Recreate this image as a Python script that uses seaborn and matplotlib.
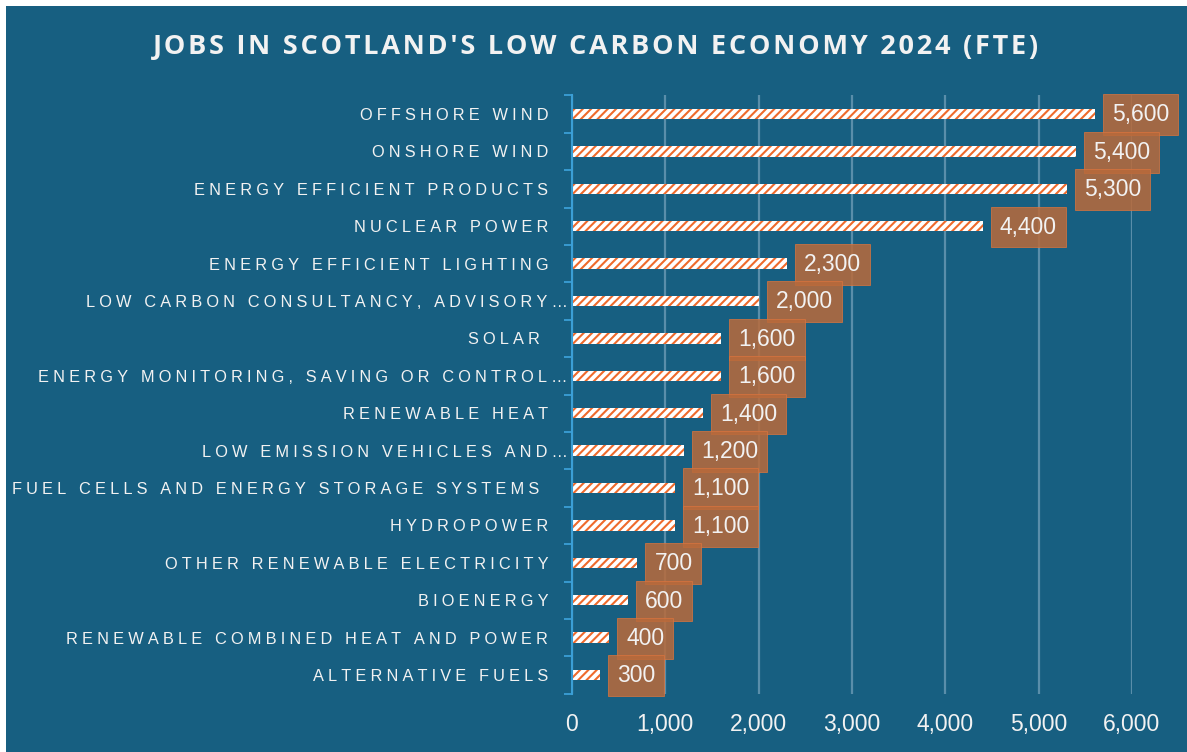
import matplotlib
matplotlib.use("Agg")
import matplotlib.pyplot as plt
from matplotlib.patches import Rectangle
from matplotlib.ticker import FixedLocator, FuncFormatter
import seaborn as sns
import pandas as pd

# Jobs in Scotland's low carbon economy, 2024 (full-time equivalent)
categories = [
    "OFFSHORE WIND",
    "ONSHORE WIND",
    "ENERGY EFFICIENT PRODUCTS",
    "NUCLEAR POWER",
    "ENERGY EFFICIENT LIGHTING",
    "LOW CARBON CONSULTANCY, ADVISORY\u2026",
    "SOLAR ",
    "ENERGY MONITORING, SAVING OR CONTROL\u2026",
    "RENEWABLE HEAT",
    "LOW EMISSION VEHICLES AND\u2026",
    "FUEL CELLS AND ENERGY STORAGE SYSTEMS ",
    "HYDROPOWER",
    "OTHER RENEWABLE ELECTRICITY",
    "BIOENERGY",
    "RENEWABLE COMBINED HEAT AND POWER",
    "ALTERNATIVE FUELS",
]
jobs = [5600, 5400, 5300, 4400, 2300, 2000, 1600, 1600,
        1400, 1200, 1100, 1100, 700, 600, 400, 300]
x_ticks = [0, 1000, 2000, 3000, 4000, 5000, 6000]
title = "JOBS IN SCOTLAND'S LOW CARBON ECONOMY 2024 (FTE)"

BG = "#175f81"
SPINE = "#3b9fd6"
GRID = "#5a8eaa"
HATCH = "#ee6a2c"
BOX = "#b96a3b"
TEXT = "#f2f2f2"
SANS = ["Liberation Sans", "DejaVu Sans"]


def tracked(s, gap="\u2005"):
    """Spread the letters of a label apart (letter-spacing)."""
    return gap.join(s)


def category_label(s):
    # truncated names hang their ellipsis past the common right edge
    if s.endswith("\u2026"):
        return tracked(s)
    return tracked(s) + "\u2003\u2009"


df = pd.DataFrame({"category": categories, "jobs": jobs})

W, H, DPI = 1187, 752, 100
fig = plt.figure(figsize=(W / DPI, H / DPI), dpi=DPI, facecolor="white")
fig.patches.append(Rectangle((6 / W, 0), 1, (H - 6) / H, transform=fig.transFigure,
                             facecolor=BG, edgecolor="none", zorder=-10))

ax_left, ax_right = 572 / W, 1132 / W
ax_top, ax_bottom = 95.3 / H, 693.7 / H
ax = fig.add_axes([ax_left, 1 - ax_bottom, ax_right - ax_left, ax_bottom - ax_top])
ax.set_facecolor(BG)

plt.rcParams["hatch.linewidth"] = 1.5
sns.barplot(data=df, x="jobs", y="category", orient="h", width=0.28,
            color="white", saturation=1, ax=ax, zorder=3)

for p in ax.patches:
    p.set_facecolor("white")
    p.set_edgecolor(HATCH)
    p.set_linewidth(0)
    p.set_hatch("////")

ax.set_xlim(0, 6000)
ax.set_ylim(len(categories) - 0.5, -0.5)

# value labels in filled boxes next to each bar
for i, v in enumerate(jobs):
    ax.annotate(f"{v:,}", xy=(v, i), xytext=(12.3, -0.6), textcoords="offset points",
                ha="left", va="center", fontsize=16.5, color=TEXT,
                family=SANS, zorder=5, annotation_clip=False,
                bbox=dict(boxstyle="square,pad=0.39", facecolor=BOX, alpha=0.86,
                          edgecolor="#d9743e", linewidth=0.6))

# axes styling
for side in ["top", "right", "bottom"]:
    ax.spines[side].set_visible(False)
ax.spines["left"].set_color(SPINE)
ax.spines["left"].set_linewidth(1.5)
ax.spines["left"].set_zorder(4)

ax.xaxis.set_major_locator(FixedLocator(x_ticks))
ax.xaxis.set_major_formatter(FuncFormatter(lambda v, _: f"{int(v):,}"))
ax.tick_params(axis="x", length=0, pad=14, labelsize=16.5, labelcolor=TEXT)
for lab in ax.get_xticklabels():
    lab.set_family(SANS)

ax.grid(axis="x", color=GRID, linewidth=1.6, zorder=1)
ax.grid(axis="y", visible=False)
ax.set_axisbelow(True)

ax.set_yticks(range(len(categories)))
ax.set_yticklabels([category_label(c) for c in categories],
                   family=SANS, fontsize=11.8, color=TEXT)
ax.tick_params(axis="y", which="major", length=0, pad=3)
ax.yaxis.set_minor_locator(FixedLocator([k - 0.5 for k in range(len(categories) + 1)]))
ax.tick_params(axis="y", which="minor", length=6, width=1.3, color=SPINE)

ax.set_xlabel("")
ax.set_ylabel("")

fig.text(596 / W, 1 - 47 / H, tracked(title, "\u200a"), ha="center", va="center",
         fontsize=19.5, fontweight="bold", color=TEXT, family=["Open Sans", "DejaVu Sans"])

fig.savefig("out.png", dpi=DPI, facecolor=fig.get_facecolor())
